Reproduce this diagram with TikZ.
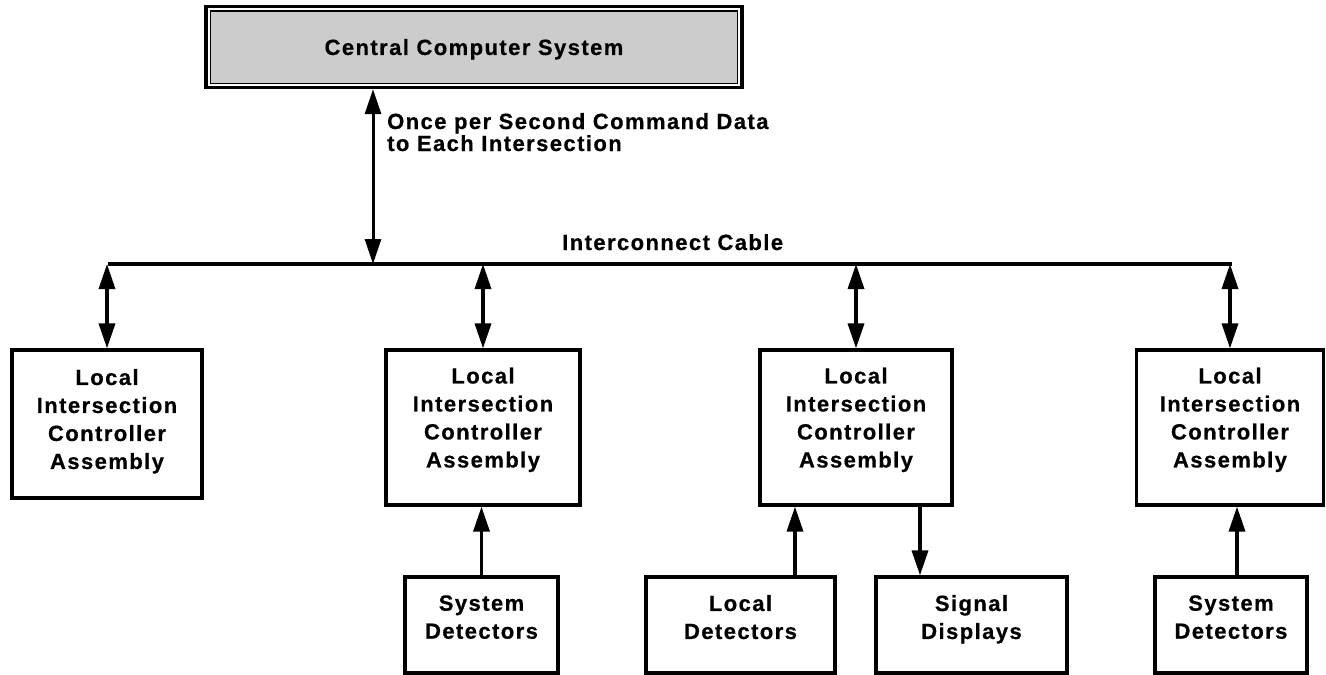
\documentclass[tikz,border=0pt]{standalone}
\usepackage{fontspec}
\setmainfont{Liberation Sans}[LetterSpace=6.5, BoldFeatures={FakeBold=0.6}]
\usetikzlibrary{arrows.meta}
\begin{document}
\begin{tikzpicture}[x=1pt,y=-1pt,
  box/.style={draw, line width=3.2pt, rectangle, inner sep=0pt},
  txt/.style={font=\bfseries\fontsize{22}{28}\selectfont, align=center, inner sep=0pt, text depth=0pt},
  lbl/.style={font=\bfseries\fontsize{22}{22}\selectfont, align=left, inner sep=0pt},
  tip/.tip={Triangle[length=25pt,width=16pt]},
  arr/.style={line width=3.4pt, -tip},
  darr/.style={line width=3.4pt, tip-tip}]
\useasboundingbox (0,0) rectangle (1326,675);
\clip (0,0) rectangle (1326,675);

% central computer
\node[draw, line width=3.4pt, fill=white, minimum width=536pt, minimum height=81pt, inner sep=0pt] (ccs) at (474,47) {};
\draw[line width=1.4pt, fill=black!20] ([shift={(6,6)}]ccs.north west) rectangle ([shift={(-6,-6)}]ccs.south east);
\node[txt] (ccst) at (ccs.center) {Central Computer System};

% cable
\coordinate (cl) at (108,264);
\coordinate (cr) at (1232,264);
\coordinate (c0) at (373,264);
\draw[line width=3.2pt] (cl) -- (cr);
\draw[line width=3pt, tip-tip] (c0 |- ccs.south) -- (c0);

\node[lbl, anchor=base west] (cmd) at (387,151) {Once per Second Command Data\\to Each Intersection};
\node[lbl, anchor=base west] (cab) at (562,250) {Interconnect Cable};

% local intersection controller assemblies
\node[box, minimum width=190pt, minimum height=148pt,
  label={[txt,yshift=5pt]center:Local\\Intersection\\Controller\\Assembly}] (l1) at (107,424) {};
\node[box, minimum width=194pt, minimum height=155pt,
  label={[txt,yshift=10pt]center:Local\\Intersection\\Controller\\Assembly}] (l2) at (483,427.5) {};
\node[box, minimum width=192pt, minimum height=155pt,
  label={[txt,yshift=10pt]center:Local\\Intersection\\Controller\\Assembly}] (l3) at (856,427.5) {};
\node[box, minimum width=187pt, minimum height=155pt,
  label={[txt,yshift=10pt]center:Local\\Intersection\\Controller\\Assembly}] (l4) at (1230,427.5) {};

\draw[darr] (l1.north |- cl) -- (l1.north);
\draw[darr] (l2.north |- cl) -- (l2.north);
\draw[darr] (l3.north |- cl) -- (l3.north);
\draw[darr] (l4.north |- cl) -- (l4.north);

% lower boxes
\node[box, minimum width=153pt, minimum height=96pt,
  label={[txt,yshift=8pt]center:System\\Detectors}] (sd1) at (481.5,625) {};
\node[box, minimum width=189pt, minimum height=96pt,
  label={[txt,yshift=8pt]center:Local\\Detectors}] (ld) at (740.5,625) {};
\node[box, minimum width=191pt, minimum height=96pt,
  label={[txt,yshift=8pt]center:Signal\\Displays}] (sg) at (971.5,625) {};
\node[box, minimum width=152pt, minimum height=96pt,
  label={[txt,yshift=8pt]center:System\\Detectors}] (sd2) at (1231,625) {};

\draw[arr] (sd1.north) -- (sd1.north |- l2.south);
\draw[arr] ([xshift=54.5pt]ld.north) -- ([xshift=54.5pt]ld.north |- l3.south);
\draw[arr] ([xshift=-51.5pt]sg.north |- l3.south) -- ([xshift=-51.5pt]sg.north);
\draw[arr] ([xshift=6pt]sd2.north) -- ([xshift=6pt]sd2.north |- l4.south);
\end{tikzpicture}
\end{document}
